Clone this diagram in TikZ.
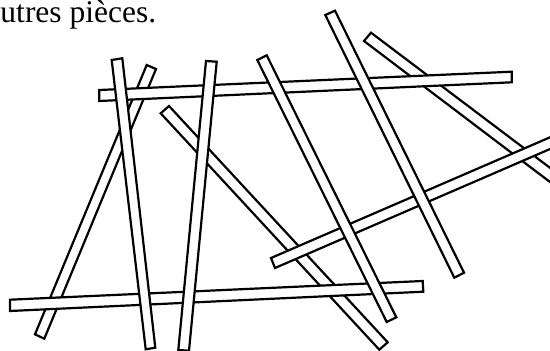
\documentclass[tikz,border=0pt]{standalone}
\usepackage{fontspec}
\setmainfont{Liberation Serif}
\tikzset{
  stick/.style={draw=black,fill=white,line width=2.2pt,line join=miter},
  caption/.style={inner sep=0pt,anchor=base west,font=\fontsize{31.5}{36}\selectfont}
}
\newcommand{\stickp}[4]{\path[stick] (#1) -- (#2) -- (#3) -- (#4) -- cycle;}
\begin{document}
\begin{tikzpicture}[x=1pt,y=-1pt]
\useasboundingbox (0,0) rectangle (550,351);
\node[caption] (t) at (0.3,22.2) {utres pièces.};
\clip (0,0) rectangle (550,351);
\stickp{146.7,65}{156,69}{44.3,338.7}{35,334.3}
\stickp{364,41}{371,32.7}{590,198}{583,207}
\stickp{160.7,113.3}{169,106}{387.7,342.3}{379.3,349.7}
\stickp{99.3,90}{511.7,71.7}{511.7,82.3}{99.3,101}
\stickp{10,299.7}{422.7,281}{423.3,291.7}{10,311}
\stickp{271,258}{590,120}{594,130}{275,268}
\stickp{111.7,60}{122.3,58.3}{155.3,347.7}{145.7,349.3}
\stickp{206,61}{216.7,61.7}{189,350.7}{178.3,350}
\stickp{257.3,60}{266.7,55.3}{396.3,317.3}{386.7,322}
\stickp{325.3,15}{335,10.7}{464,272.7}{454.3,277.7}
\end{tikzpicture}
\end{document}
